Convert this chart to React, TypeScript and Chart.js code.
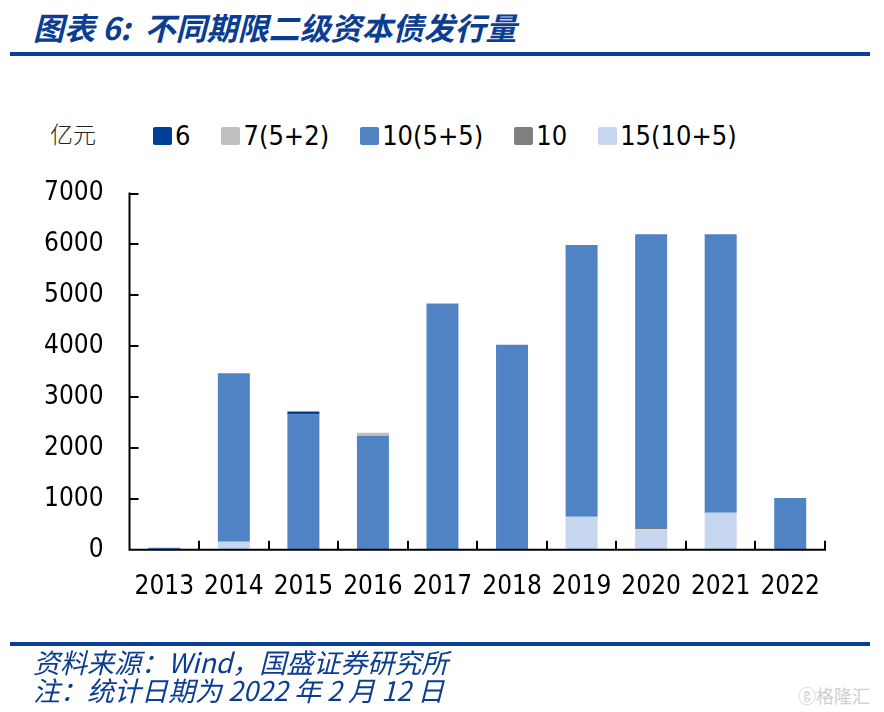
import React, { useEffect, useRef } from "react";
import { Chart, registerables } from "chart.js";

Chart.register(...registerables);

const years = ["2013", "2014", "2015", "2016", "2017", "2018", "2019", "2020", "2021", "2022"];
const seriesNames = ["15(10+5)", "10", "10(5+5)", "7(5+2)", "6"];
const s15 = [0, 160, 0, 0, 0, 0, 650, 410, 730, 0];
const s10 = [0, 0, 0, 0, 0, 0, 0, 40, 0, 0];
const s10of55 = [40, 3310, 2660, 2240, 4840, 4030, 5340, 5750, 5470, 1020];
const s7 = [0, 0, 0, 60, 0, 0, 0, 0, 0, 0];
const s6 = [0, 0, 60, 0, 0, 0, 0, 0, 0, 0];
const yTickValues = [0, 1000, 2000, 3000, 4000, 5000, 6000, 7000];

const colors = ["#c5d6ee", "#7f7f7f", "#4f83c4", "#bfbfbf", "#003f98"];

const axisFont = "'DejaVu Sans Condensed', 'DejaVu Sans', sans-serif";

const axisPlugin = {
  id: "axisPlugin",
  afterDatasetsDraw(chart: any) {
    const x = chart.scales.x;
    const y = chart.scales.y;
    const ctx = chart.ctx;
    const y0 = y.getPixelForValue(0);
    const n = x.ticks.length;
    const step = x.getPixelForTick(1) - x.getPixelForTick(0);
    const start = x.getPixelForTick(0) - step / 2;
    ctx.save();
    ctx.strokeStyle = "#000";
    ctx.lineWidth = 2;
    ctx.beginPath();
    // x axis
    ctx.moveTo(x.left - 1, y0);
    ctx.lineTo(x.right + 1, y0);
    for (let i = 1; i <= n; i++) {
      const px = Math.round(start + i * step);
      ctx.moveTo(px, y0);
      ctx.lineTo(px, y0 - 9);
    }
    // y axis
    const yTop = y.getPixelForValue(yTickValues[yTickValues.length - 1]);
    ctx.moveTo(x.left, y0);
    ctx.lineTo(x.left, yTop - 1);
    for (const v of yTickValues) {
      if (v === 0) continue;
      const py = Math.round(y.getPixelForValue(v));
      ctx.moveTo(x.left, py);
      ctx.lineTo(x.left + 9, py);
    }
    ctx.stroke();
    ctx.restore();
  },
};

export default function App() {
  const ref = useRef<HTMLCanvasElement | null>(null);
  useEffect(() => {
    document.body.style.margin = "0";
    if (!ref.current) return;
    const data = [s15, s10, s10of55, s7, s6];
    const chart = new Chart(ref.current, {
      type: "bar",
      data: {
        labels: years,
        datasets: seriesNames.map((name, i) => ({
          label: name,
          data: data[i],
          backgroundColor: colors[i],
          borderWidth: 0,
          barPercentage: 0.46,
          categoryPercentage: 1,
        })),
      },
      options: {
        animation: false,
        responsive: false,
        maintainAspectRatio: false,
        layout: { padding: { left: 18, right: 59, top: 10, bottom: 18 } },
        plugins: {
          tooltip: { enabled: false },
          legend: { display: false },
        },
        scales: {
          x: {
            stacked: true,
            grid: { display: false, drawTicks: false },
            border: { display: false },
            ticks: {
              color: "#000",
              padding: 22,
              font: { family: axisFont, size: 26 },
            },
          },
          y: {
            stacked: true,
            min: 0,
            max: 7000,
            grid: { display: false, drawTicks: false },
            border: { display: false },
            afterBuildTicks: (scale: any) => {
              scale.ticks = yTickValues.map((v) => ({ value: v }));
            },
            ticks: {
              color: "#000",
              padding: 26,
              callback: (v: any) => String(v),
              font: { family: axisFont, size: 26 },
            },
          },
        },
      },
      plugins: [axisPlugin],
    });
    return () => chart.destroy();
  }, []);

  const blue = "#0b3d91";
  const legendItems = seriesNames.map((n, i) => ({ name: n, color: colors[i] })).reverse();
  return (
    <div style={{ position: "relative", width: 884, height: 712, background: "#fff", overflow: "hidden" }}>
      <div
        style={{
          position: "absolute",
          left: 33,
          top: 4,
          fontFamily: "'Noto Sans CJK SC', sans-serif",
          fontWeight: 700,
          fontStyle: "italic",
          fontSize: 31,
          color: blue,
          whiteSpace: "nowrap",
        }}
      >
        图表 6:&nbsp;&nbsp;不同期限二级资本债发行量
      </div>
      <div style={{ position: "absolute", left: 10, top: 52, width: 860, height: 4, background: "#0a3f96" }} />
      <div
        style={{
          position: "absolute",
          left: 50,
          top: 116,
          fontFamily: "'Noto Sans CJK SC', sans-serif",
          fontSize: 23,
          fontWeight: 300,
          color: "#222",
          lineHeight: "34px",
        }}
      >
        亿元
      </div>
      <div
        style={{
          position: "absolute",
          left: 153,
          top: 119,
          height: 34,
          display: "flex",
          alignItems: "center",
          gap: 31,
          whiteSpace: "nowrap",
          fontFamily: axisFont,
          fontSize: 27,
          color: "#000",
        }}
      >
        {legendItems.map((it) => (
          <div key={it.name} style={{ display: "flex", alignItems: "center", gap: 3 }}>
            <div style={{ width: 19, height: 18, background: it.color, borderRadius: 2 }} />
            <span style={{ lineHeight: "34px" }}>{it.name}</span>
          </div>
        ))}
      </div>
      <canvas ref={ref} width={884} height={491} style={{ position: "absolute", left: 0, top: 152, width: 884, height: 491 }} />
      <div style={{ position: "absolute", left: 10, top: 642, width: 860, height: 4, background: "#0a3f96" }} />
      <div
        style={{
          position: "absolute",
          left: 33,
          top: 648,
          fontFamily: "'Noto Sans CJK SC', sans-serif",
          fontStyle: "italic",
          fontSize: 27,
          color: blue,
          whiteSpace: "nowrap",
          lineHeight: "28px",
        }}
      >
        <div>资料来源：Wind，国盛证券研究所</div>
        <div>注：统计日期为 2022 年 2 月 12 日</div>
      </div>
      <div
        style={{
          position: "absolute",
          right: 14,
          top: 682,
          fontFamily: "'Noto Sans CJK SC', sans-serif",
          fontSize: 18,
          color: "#cfcfcf",
          whiteSpace: "nowrap",
        }}
      >
        ⓖ格隆汇
      </div>
    </div>
  );
}
